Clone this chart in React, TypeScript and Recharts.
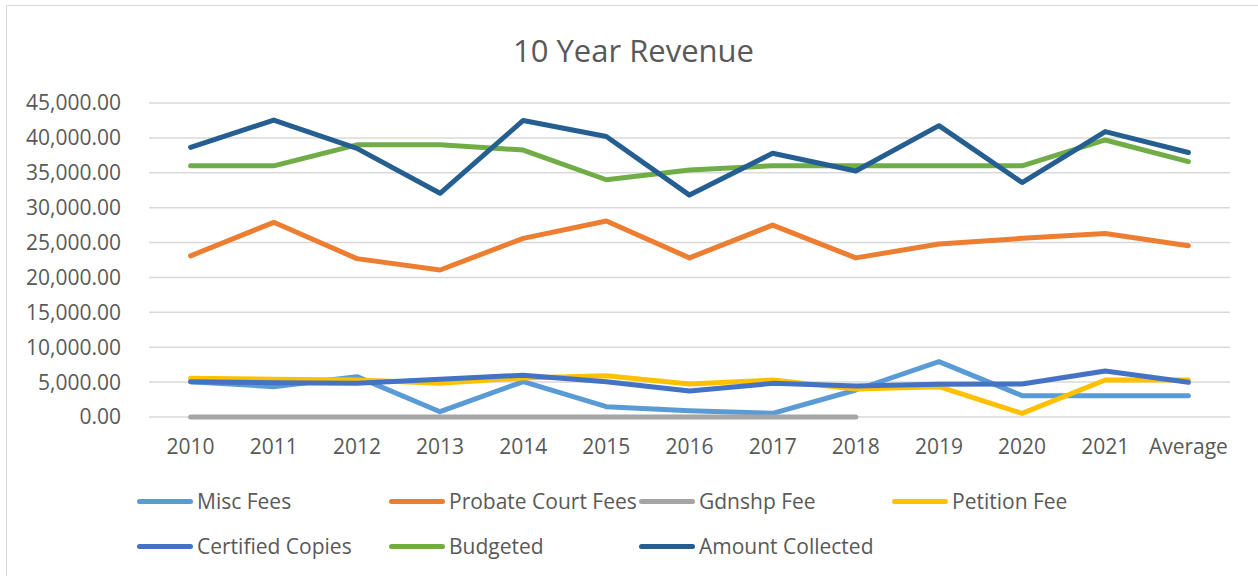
import React from "react";
import { LineChart, Line, XAxis, YAxis, CartesianGrid } from "recharts";

const categories = ["2010", "2011", "2012", "2013", "2014", "2015", "2016", "2017", "2018", "2019", "2020", "2021", "Average"];
const miscFees = [5060, 4350, 5780, 760, 5060, 1480, 900, 520, 3870, 7930, 3060, 3060, 3060];
const probateCourtFees = [23100, 27900, 22700, 21070, 25600, 28090, 22800, 27500, 22800, 24800, 25600, 26300, 24550];
const gdnshpFee: (number | null)[] = [0, 0, 0, 0, 0, 0, 0, 0, 0, null, null, null, null];
const petitionFee = [5540, 5400, 5300, 4820, 5600, 5920, 4730, 5300, 4000, 4350, 520, 5300, 5300];
const certifiedCopies = [5060, 4920, 4820, 5400, 6000, 5060, 3730, 4820, 4440, 4680, 4730, 6590, 4970];
const budgeted = [36000, 36000, 39000, 39000, 38260, 34000, 35400, 36000, 36000, 36000, 36000, 39700, 36600];
const amountCollected = [38650, 42560, 38500, 32060, 42500, 40200, 31800, 37800, 35250, 41750, 33600, 40900, 37900];
const yTicks = [0, 5000, 10000, 15000, 20000, 25000, 30000, 35000, 40000, 45000];

const series = [
  { key: "misc", name: "Misc Fees", color: "#5B9BD5", values: miscFees },
  { key: "probate", name: "Probate Court Fees", color: "#ED7D31", values: probateCourtFees },
  { key: "gdnshp", name: "Gdnshp Fee", color: "#A5A5A5", values: gdnshpFee },
  { key: "petition", name: "Petition Fee", color: "#FFC000", values: petitionFee },
  { key: "certified", name: "Certified Copies", color: "#4472C4", values: certifiedCopies },
  { key: "budgeted", name: "Budgeted", color: "#70AD47", values: budgeted },
  { key: "collected", name: "Amount Collected", color: "#255E91", values: amountCollected },
];

const data = categories.map((c, i) => {
  const row: Record<string, any> = { category: c };
  series.forEach((s) => {
    row[s.key] = s.values[i];
  });
  return row;
});

const fmt = (v: number) =>
  v.toLocaleString("en-US", { minimumFractionDigits: 2, maximumFractionDigits: 2 });

const FONT = "'Open Sans', sans-serif";
const TEXT = "#595959";

const legendCols = [130, 382, 632, 885];

export default function App() {
  return (
    <div
      style={{
        position: "absolute",
        left: 6,
        top: 5,
        width: 1251,
        height: 570,
        borderLeft: "1px solid #d9d9d9",
        borderTop: "1px solid #d9d9d9",
        background: "#fff",
        fontFamily: FONT,
      }}
    >
      <div
        style={{
          position: "absolute",
          left: 0,
          width: 1253,
          top: 22,
          textAlign: "center",
          fontSize: 31,
          color: TEXT,
          lineHeight: "44px",
        }}
      >
        10 Year Revenue
      </div>
      <LineChart
        width={1251}
        height={570}
        data={data}
        margin={{ top: 97, right: 28, bottom: 119, left: 12 }}
      >
        <CartesianGrid vertical={false} stroke="#d9d9d9" strokeWidth={1.5} />
        <XAxis
          dataKey="category"
          axisLine={false}
          tickLine={false}
          tickSize={0}
          tickMargin={22}
          height={40}
          interval={0}
          padding={{ left: 41.6, right: 41.6 }}
          tick={{ fill: TEXT, fontSize: 21, fontFamily: FONT }}
        />
        <YAxis
          domain={[0, 45000]}
          ticks={yTicks}
          axisLine={false}
          tickLine={false}
          tickSize={0}
          tickMargin={28}
          width={130}
          interval={0}
          tickFormatter={fmt}
          tick={{ fill: TEXT, fontSize: 21, fontFamily: FONT }}
        />
        {series.map((s) => (
          <Line
            key={s.key}
            dataKey={s.key}
            name={s.name}
            type="linear"
            stroke={s.color}
            strokeWidth={5}
            strokeLinecap="round"
            strokeLinejoin="round"
            dot={false}
            activeDot={false}
            isAnimationActive={false}
            connectNulls={false}
          />
        ))}
      </LineChart>
      {series.map((s, i) => {
        const row = Math.floor(i / 4);
        const col = i % 4;
        return (
          <div
            key={s.key}
            style={{
              position: "absolute",
              left: legendCols[col],
              top: row === 0 ? 480 : 525,
              height: 30,
              display: "flex",
              alignItems: "center",
              whiteSpace: "nowrap",
            }}
          >
            <div
              style={{
                width: 56,
                height: 5,
                borderRadius: 3,
                background: s.color,
                marginRight: 4,
              }}
            />
            <span style={{ fontSize: 21, color: TEXT }}>{s.name}</span>
          </div>
        );
      })}
    </div>
  );
}
